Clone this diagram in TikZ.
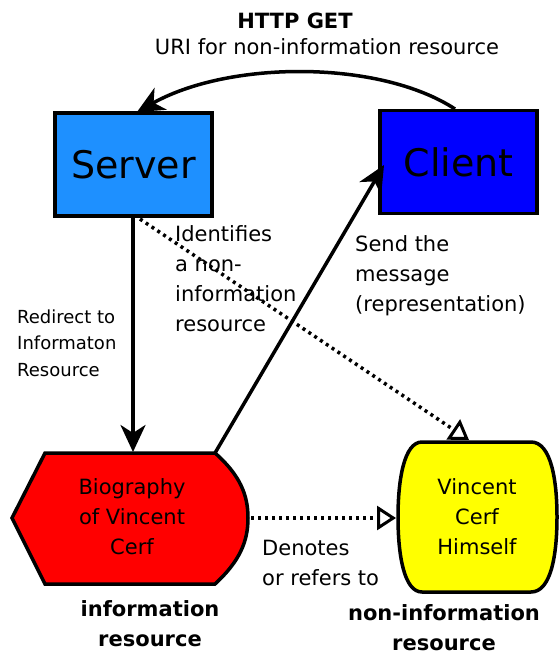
\documentclass[tikz,border=0pt]{standalone}
\usepackage{fontspec}
\setmainfont{DejaVu Sans}
\usetikzlibrary{arrows.meta}
\definecolor{srvblue}{RGB}{30,144,255}
\definecolor{clientblue}{RGB}{0,0,255}
\definecolor{docred}{RGB}{255,0,0}
\definecolor{thingyellow}{RGB}{255,255,0}
\tikzset{
  box/.style={draw=black, line width=3.5pt, minimum width=157pt, minimum height=103pt, inner sep=0pt, font=\fontsize{38}{40}\selectfont},
  shapeline/.style={draw=black, line width=3.5pt, line join=miter},
  lbl/.style={inner sep=0pt, align=left, font=\fontsize{21}{30}\selectfont},
  smalllbl/.style={inner sep=0pt, align=left, font=\fontsize{18}{26.5}\selectfont},
  boldlbl/.style={inner sep=0pt, align=center, font=\bfseries\fontsize{21}{30}\selectfont},
  solidarrow/.style={line width=3.5pt, -{Stealth[length=27pt,width=25pt,inset=8pt]}},
  dotarrow/.style={line width=3.5pt, dash pattern=on 3pt off 4pt, -{Triangle[open,length=19pt,width=24pt,line width=3pt]}},
}
\begin{document}
\begin{tikzpicture}[x=1pt,y=-1pt]
\useasboundingbox (0,0) rectangle (558,655);

% the two boxes
\node[box, fill=srvblue] (server) at (133.5,164.5) {Server};
\node[box, fill=clientblue] (client) at (458.5,162) {Client};

% information resource: hexagon with a rounded right side
\path[shapeline, fill=docred]
  (45,453) -- (215,453)
  .. controls (240,475) and (248,495) .. (248,518)
  .. controls (248,541) and (240,561) .. (215,584)
  -- (45,584) -- (12,518) -- cycle;
\node[lbl, align=center] (bio) at (132,517) {Biography\\of Vincent\\Cerf};
\coordinate (biotop) at (133,452);
\coordinate (biocorner) at (215,453);
\coordinate (bioright) at (251,518);

% non-information resource: barrel shape
\path[shapeline, fill=thingyellow]
  (422,442) -- (531,442)
  .. controls (551,442) and (557,480) .. (557,517)
  .. controls (557,555) and (551,592) .. (531,592)
  -- (422,592)
  .. controls (404,592) and (398,555) .. (398,517)
  .. controls (398,480) and (404,442) .. (422,442) -- cycle;
\node[lbl, align=center] (vint) at (477,517) {Vincent\\Cerf\\Himself};
\coordinate (vintop) at (469,440);
\coordinate (vinleft) at (396,518);

% connector end points on the boxes
\coordinate (clienttop) at (455,109);
\coordinate (servertop) at (137,112);
\coordinate (serverbot) at (133,215);
\coordinate (servercorner) at (140,219);
\coordinate (clientleft) at (384,165);

% connectors
\draw[solidarrow] (clienttop) .. controls (380,60) and (230,60) .. (servertop);
\draw[solidarrow] (serverbot) -- (biotop);
\draw[solidarrow] (biocorner) -- (clientleft);
\draw[dotarrow] (servercorner) -- (vintop);
\draw[dotarrow] (bioright) -- (vinleft);

% labels
\node[boldlbl] (get) at (295,21) {HTTP GET};
\node[lbl] (uri) at (327,47) {URI for non-information resource};
\node[smalllbl, anchor=west] (redirect) at (17,343) {Redirect to\\Informaton\\Resource};
\node[lbl, anchor=west] (ident) at (175,279) {Identifies\\a non-\\information\\resource};
\node[lbl, anchor=west] (send) at (355,276) {Send the\\message\\(representation)};
\node[lbl, anchor=west] (denote) at (262,563) {Denotes\\or refers to};
\node[boldlbl] (infolbl) at (150,624) {information\\resource};
\node[boldlbl] (noninfolbl) at (444,628) {non-information\\resource};
\end{tikzpicture}
\end{document}
